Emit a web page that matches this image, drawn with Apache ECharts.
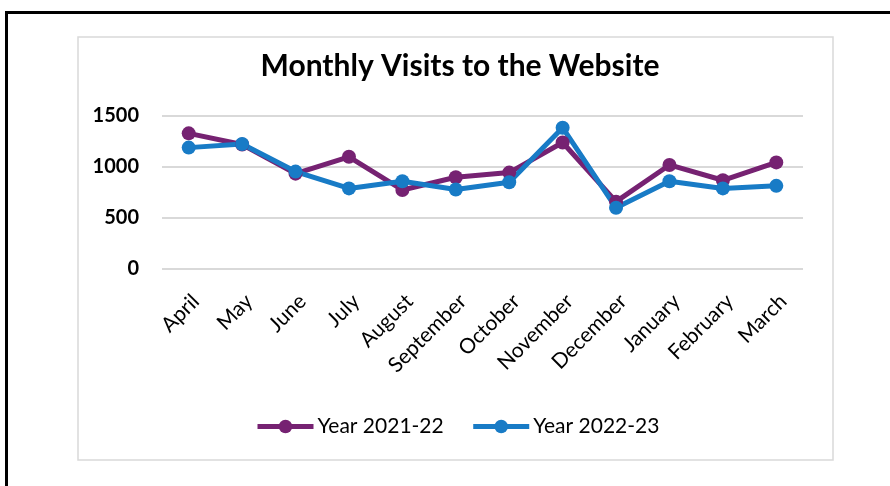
<!DOCTYPE html>
<html>
<head>
<meta charset="utf-8">
<title>Monthly Visits to the Website</title>
<script src="https://cdn.jsdelivr.net/npm/echarts@6/dist/echarts.min.js"></script>
<style>
  html, body { margin: 0; padding: 0; background: #fff; }
  #chart { width: 890px; height: 486px; }
</style>
</head>
<body>
<div id="chart"></div>
<script>
const months = ["April", "May", "June", "July", "August", "September",
    "October", "November", "December", "January", "February", "March"]
const visits2122 = [1330, 1220, 935, 1100, 775, 900, 945, 1240, 660, 1020, 870, 1045]
const visits2223 = [1190, 1225, 955, 790, 860, 780, 850, 1385, 600, 860, 790, 815]
const yTicks = [0, 500, 1000, 1500]

const purple = "#762272"
const blue = "#187BC6"
const font = "Lato"

const chart = echarts.init(document.getElementById("chart"), null, { renderer: "canvas" })

function lineSeries(name, data, color) {
    return {
        name: name,
        type: "line",
        data: data,
        symbol: "circle",
        symbolSize: 14,
        lineStyle: { width: 5, color: color },
        itemStyle: { color: color },
        emphasis: { disabled: true },
        animation: false
    }
}

const option = {
    backgroundColor: "#fff",
    textStyle: { fontFamily: font },
    title: {
        text: "Monthly Visits to the Website",
        left: 455,
        top: 46,
        textAlign: "center",
        textStyle: { fontFamily: font, fontSize: 30, fontWeight: "bold", color: "#000" }
    },
    legend: {
        left: 250,
        top: 411,
        itemWidth: 56,
        itemHeight: 17,
        itemGap: 27,
        lineStyle: { width: 5 },
        textStyle: { fontFamily: font, fontSize: 21, color: "#000", padding: [0, 0, 0, -1] },
        data: ["Year 2021-22", "Year 2022-23"]
    },
    grid: { left: 162, right: 87, top: 116, bottom: 217 },
    xAxis: {
        type: "category",
        data: months,
        boundaryGap: true,
        axisLine: { show: false },
        axisTick: { show: false },
        axisLabel: {
            rotate: 45,
            margin: 36,
            padding: [0, -10, 0, 0],
            fontFamily: font,
            fontSize: 21,
            color: "#000",
            interval: 0
        }
    },
    yAxis: {
        type: "value",
        min: yTicks[0],
        max: yTicks[yTicks.length - 1],
        interval: yTicks[1] - yTicks[0],
        axisLine: { show: false },
        axisTick: { show: false },
        splitLine: { lineStyle: { color: "#d9d9d9", width: 2 } },
        axisLabel: {
            margin: 23,
            fontFamily: font,
            fontSize: 20,
            fontWeight: "bold",
            color: "#000",
            formatter: v => String(v)
        }
    },
    graphic: [
        {
            type: "rect",
            z: -10,
            shape: { x: 78, y: 37, width: 755, height: 423 },
            style: { fill: "#fff", stroke: "#d9d9d9", lineWidth: 1.5 }
        },
        {
            type: "line",
            shape: { x1: 5, y1: 12.5, x2: 890, y2: 12.5 },
            style: { stroke: "#000", lineWidth: 3 }
        },
        {
            type: "line",
            shape: { x1: 6.5, y1: 11, x2: 6.5, y2: 486 },
            style: { stroke: "#000", lineWidth: 3 }
        }
    ],
    series: [
        lineSeries("Year 2021-22", visits2122, purple),
        lineSeries("Year 2022-23", visits2223, blue)
    ]
}

chart.setOption(option)
</script>
</body>
</html>
